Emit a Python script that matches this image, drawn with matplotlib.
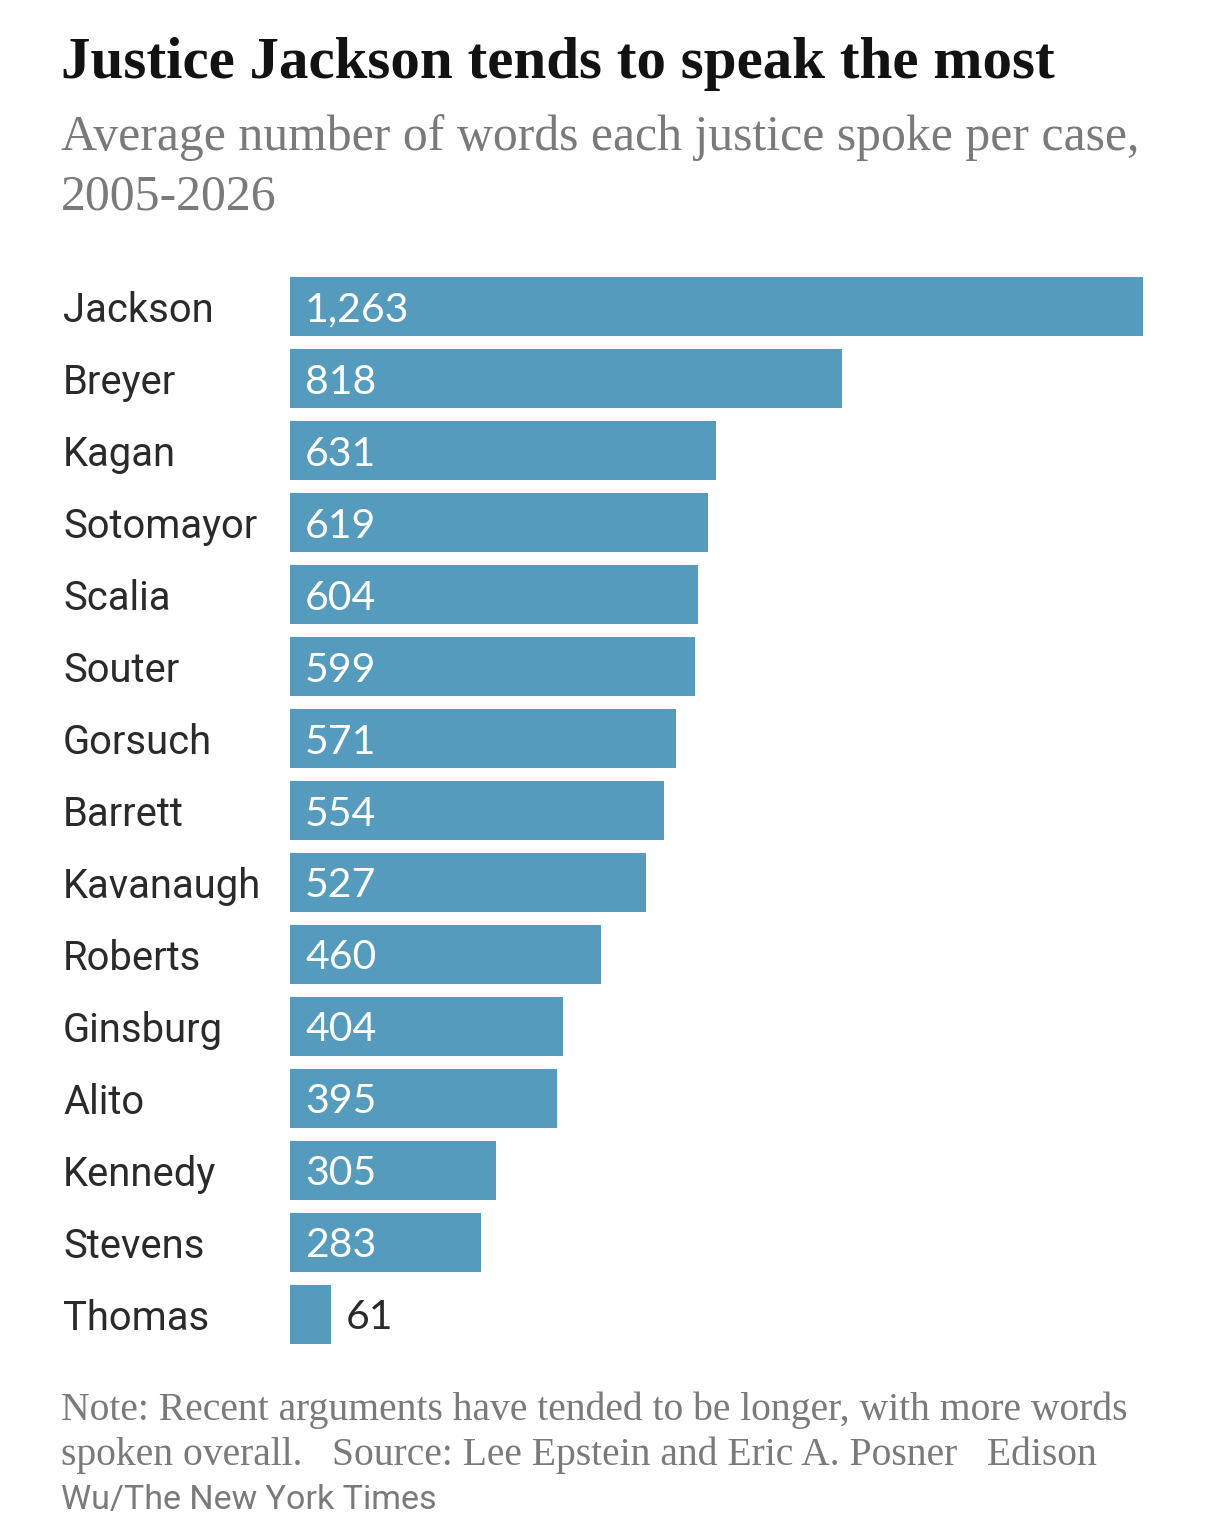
import matplotlib
matplotlib.use("Agg")
import matplotlib.pyplot as plt

justices = ["Jackson", "Breyer", "Kagan", "Sotomayor", "Scalia", "Souter", "Gorsuch",
            "Barrett", "Kavanaugh", "Roberts", "Ginsburg", "Alito", "Kennedy", "Stevens", "Thomas"]
words = [1263, 818, 631, 619, 604, 599, 571, 554, 527, 460, 404, 395, 305, 283, 61]

title = "Justice Jackson tends to speak the most"
subtitle = ["Average number of words each justice spoke per case,", "2005-2026"]
note = ["Note: Recent arguments have tended to be longer, with more words",
        "spoken overall.   Source: Lee Epstein and Eric A. Posner   Edison"]
credit = "Wu/The New York Times"

W, H = 1206, 1521
fig = plt.figure(figsize=(W / 100, H / 100), dpi=100)
fig.patch.set_facecolor("white")

def fx(px):
    return px / W

def fy(py):
    return 1 - py / H

ax_left, ax_right, ax_top, ax_bot = 290, 1143, 277, 1344
ax = fig.add_axes([fx(ax_left), fy(ax_bot), (ax_right - ax_left) / W, (ax_bot - ax_top) / H])
ypos = list(range(len(justices)))
bar_h = 0.82
ax.barh(ypos, words, height=bar_h, color="#559bbd", left=0)
ax.set_xlim(0, max(words))
ax.set_ylim(len(justices) - 1 + bar_h / 2, -bar_h / 2)
ax.axis("off")

unit = max(words) / (ax_right - ax_left)  # data units per pixel
for y, name, v in zip(ypos, justices, words):
    ax.text(-(ax_left - 63) * unit, y, name, ha="left", va="center_baseline",
            fontsize=28.8, family="Roboto", color="#2a2a2a", clip_on=False)
    label = f"{v:,}"
    if v > 150:
        ax.text(15 * unit, y, label, ha="left", va="center_baseline",
                fontsize=29.5, family="Lato", color="white")
    else:
        ax.text(v + 15 * unit, y, label, ha="left", va="center_baseline",
                fontsize=29.5, family="Lato", color="#2a2a2a")

fig.text(fx(61), fy(78), title, ha="left", va="baseline", fontsize=42.5,
         family="Liberation Serif", fontweight="bold", color="#121212")
fig.text(fx(61), fy(150), subtitle[0], ha="left", va="baseline", fontsize=35.8,
         family="Liberation Serif", color="#7a7a7a")
fig.text(fx(61), fy(210), subtitle[1], ha="left", va="baseline", fontsize=35.8,
         family="Liberation Serif", color="#7a7a7a")
for i, line in enumerate(note):
    fig.text(fx(61), fy(1420 + 44.5 * i), line, ha="left", va="baseline", fontsize=28.5,
             family="Liberation Serif", color="#7a7a7a")
fig.text(fx(61), fy(1420 + 44.5 * 2), credit, ha="left", va="baseline", fontsize=24.5,
         family="Roboto", color="#7a7a7a")

fig.savefig("out.png", dpi=100, facecolor="white")
